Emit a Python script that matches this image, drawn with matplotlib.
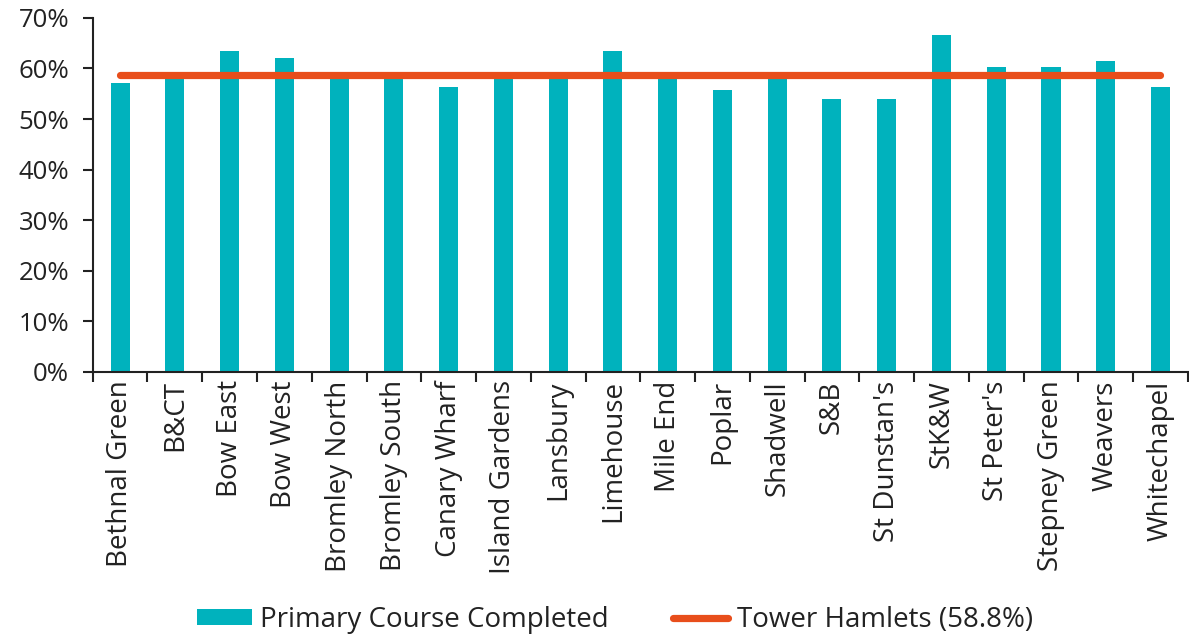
import matplotlib
matplotlib.use("Agg")
import matplotlib.pyplot as plt
from matplotlib.ticker import FixedLocator, PercentFormatter

plt.rcParams['font.family'] = ['Open Sans', 'DejaVu Sans']

categories = ["Bethnal Green", "B&CT", "Bow East", "Bow West", "Bromley North",
              "Bromley South", "Canary Wharf", "Island Gardens", "Lansbury",
              "Limehouse", "Mile End", "Poplar", "Shadwell", "S&B", "St Dunstan's",
              "StK&W", "St Peter's", "Stepney Green", "Weavers", "Whitechapel"]
completed = [57.1, 58.5, 63.4, 62.1, 58.5, 58.5, 56.4, 58.5, 58.5, 63.4,
             58.5, 55.8, 58.5, 53.9, 53.9, 66.6, 60.3, 60.3, 61.5, 56.4]
borough_avg = 58.8
yticks = [0, 10, 20, 30, 40, 50, 60, 70]

teal = "#00B2BD"
orange = "#E84E1B"
txt = "#222222"
fs_y = 18.5
fs_x = 20

fig = plt.figure(figsize=(11.89, 6.38), dpi=100)
ax = fig.add_axes([0.078, 0.417, 0.921, 0.555])

x = list(range(len(categories)))
bars = ax.bar(x, completed, width=0.35, color=teal, label="Primary Course Completed", zorder=2)
line, = ax.plot(x, [borough_avg] * len(x), color=orange, lw=5.2, solid_capstyle='round',
                label=f"Tower Hamlets ({borough_avg}%)", zorder=3)

ax.set_xlim(-0.5, len(categories) - 0.5)
ax.set_ylim(0, 70)
ax.set_yticks(yticks)
ax.yaxis.set_major_formatter(PercentFormatter(decimals=0))
ax.set_xticks(x)
ax.set_xticklabels(categories, rotation=90, fontsize=fs_x, color=txt)
ax.tick_params(axis='x', which='major', length=0, pad=6)
ax.xaxis.set_minor_locator(FixedLocator([i - 0.5 for i in range(len(categories) + 1)]))
ax.tick_params(axis='x', which='minor', length=7, width=1.5, color=txt, direction='out')
ax.tick_params(axis='y', length=7, width=1.5, color=txt, labelsize=fs_y, labelcolor=txt, pad=10)

for s in ['top', 'right']:
    ax.spines[s].set_visible(False)
for s in ['left', 'bottom']:
    ax.spines[s].set_color(txt)
    ax.spines[s].set_linewidth(1.5)

fig.legend(handles=[bars, line], loc='center', bbox_to_anchor=(0.517, 0.028), ncol=2,
           frameon=False, fontsize=fs_x, handlelength=2.0, handleheight=0.5,
           columnspacing=2.3, handletextpad=0.3, labelcolor=txt, borderpad=0)

fig.savefig("out.png", dpi=100)
